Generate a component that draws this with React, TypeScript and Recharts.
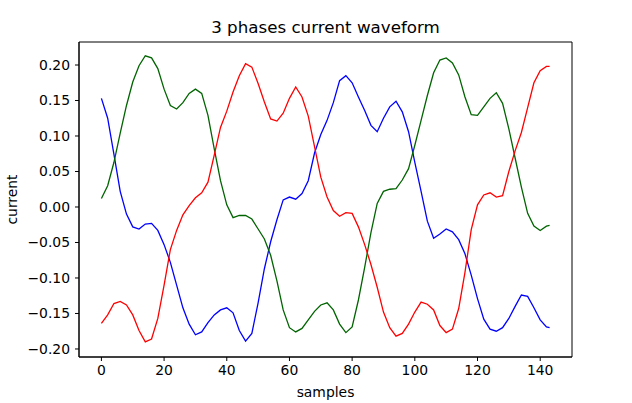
// 3-phase current waveform, matplotlib-style line chart.
import { LineChart, Line, XAxis, YAxis, ReferenceArea } from "recharts";

const samples = [
  0, 2, 4, 6, 8, 10, 12, 14, 16, 18, 20, 22, 24, 26, 28, 30, 32, 34, 36, 38,
  40, 42, 44, 46, 48, 50, 52, 54, 56, 58, 60, 62, 64, 66, 68, 70, 72, 74, 76, 78,
  80, 82, 84, 86, 88, 90, 92, 94, 96, 98, 100, 102, 104, 106, 108, 110, 112, 114, 116, 118,
  120, 122, 124, 126, 128, 130, 132, 134, 136, 138, 140, 142, 143,
];

const phaseA = [
  0.153, 0.125, 0.074, 0.022, -0.01, -0.028, -0.031, -0.024, -0.023, -0.033,
  -0.053, -0.078, -0.11, -0.142, -0.165, -0.18, -0.176, -0.163, -0.152, -0.145,
  -0.142, -0.149, -0.174, -0.189, -0.178, -0.135, -0.087, -0.049, -0.018, 0.01,
  0.014, 0.011, 0.019, 0.037, 0.076, 0.102, 0.122, 0.147, 0.178, 0.185,
  0.175, 0.155, 0.136, 0.115, 0.106, 0.125, 0.141, 0.149, 0.134, 0.106,
  0.063, 0.022, -0.02, -0.044, -0.038, -0.031, -0.035, -0.046, -0.066, -0.096,
  -0.129, -0.158, -0.172, -0.175, -0.17, -0.157, -0.14, -0.124, -0.126, -0.142,
  -0.159, -0.169, -0.17,
];

const phaseB = [
  0.012, 0.03, 0.063, 0.104, 0.143, 0.176, 0.199, 0.213, 0.21, 0.195,
  0.166, 0.143, 0.138, 0.147, 0.16, 0.166, 0.16, 0.129, 0.082, 0.037,
  0.003, -0.015, -0.012, -0.012, -0.017, -0.031, -0.045, -0.068, -0.104, -0.145,
  -0.17, -0.176, -0.171, -0.159, -0.147, -0.138, -0.135, -0.145, -0.165, -0.177,
  -0.169, -0.131, -0.085, -0.036, 0.005, 0.022, 0.025, 0.026, 0.038, 0.054,
  0.087, 0.122, 0.157, 0.189, 0.207, 0.21, 0.203, 0.186, 0.155, 0.13,
  0.129, 0.141, 0.153, 0.161, 0.146, 0.11, 0.069, 0.028, -0.009, -0.027,
  -0.033, -0.027, -0.026,
];

const phaseC = [
  -0.164, -0.152, -0.136, -0.133, -0.138, -0.152, -0.174, -0.19, -0.186, -0.157,
  -0.11, -0.06, -0.033, -0.011, 0.002, 0.013, 0.02, 0.035, 0.073, 0.112,
  0.135, 0.162, 0.185, 0.202, 0.197, 0.174, 0.148, 0.124, 0.121, 0.132,
  0.153, 0.169, 0.155, 0.128, 0.085, 0.042, 0.014, -0.005, -0.013, -0.008,
  -0.009, -0.028, -0.053, -0.081, -0.113, -0.148, -0.17, -0.182, -0.178, -0.165,
  -0.148, -0.134, -0.137, -0.145, -0.167, -0.177, -0.172, -0.143, -0.092, -0.032,
  0.003, 0.017, 0.02, 0.014, 0.016, 0.05, 0.079, 0.105, 0.14, 0.175,
  0.192, 0.198, 0.198,
];

const xTicks = [0, 20, 40, 60, 80, 100, 120, 140];
const yTicks = [-0.2, -0.15, -0.1, -0.05, 0, 0.05, 0.1, 0.15, 0.2];

const X_DOMAIN: [number, number] = [-7.15, 150.15];
const Y_DOMAIN: [number, number] = [-0.2113, 0.2324];

const font = "DejaVu Sans, sans-serif";
const tick = { fill: "#000", fontSize: 13.9, fontFamily: font };

const data = samples.map((s, i) => ({ s, a: phaseA[i], b: phaseB[i], c: phaseC[i] }));

export default function App() {
  return (
    <div style={{ position: "absolute", left: 0, top: 0, width: 632, height: 403, background: "#fff", fontFamily: font }}>
      <div style={{ position: "absolute", left: 79, width: 493, top: 17, textAlign: "center", fontSize: 16.7, color: "#000" }}>
        3 phases current waveform
      </div>
      <LineChart width={632} height={403} data={data} margin={{ top: 42, right: 60, bottom: 10, left: 19 }}>
        <XAxis
          dataKey="s"
          type="number"
          domain={X_DOMAIN}
          ticks={xTicks}
          allowDataOverflow
          height={36}
          stroke="#000"
          tick={tick}
          tickSize={4}
          tickMargin={4}
          label={{ value: "samples", position: "center", dy: 17, fill: "#000", fontSize: 13.9, fontFamily: font }}
        />
        <YAxis
          type="number"
          domain={Y_DOMAIN}
          ticks={yTicks}
          allowDataOverflow
          width={60}
          stroke="#000"
          tick={tick}
          tickSize={4}
          tickMargin={5}
          tickFormatter={(v: number) => v.toFixed(2).replace("-", "\u2212")}
          label={{ value: "current", angle: -90, position: "center", dx: -37, fill: "#000", fontSize: 13.9, fontFamily: font }}
        />
        <ReferenceArea x1={X_DOMAIN[0]} x2={X_DOMAIN[1]} y1={Y_DOMAIN[0]} y2={Y_DOMAIN[1]} fill="none" stroke="#000" strokeWidth={1} />
        <Line dataKey="a" stroke="#0000ff" strokeWidth={1.3} dot={false} isAnimationActive={false} />
        <Line dataKey="b" stroke="#006400" strokeWidth={1.3} dot={false} isAnimationActive={false} />
        <Line dataKey="c" stroke="#ff0000" strokeWidth={1.3} dot={false} isAnimationActive={false} />
      </LineChart>
    </div>
  );
}
